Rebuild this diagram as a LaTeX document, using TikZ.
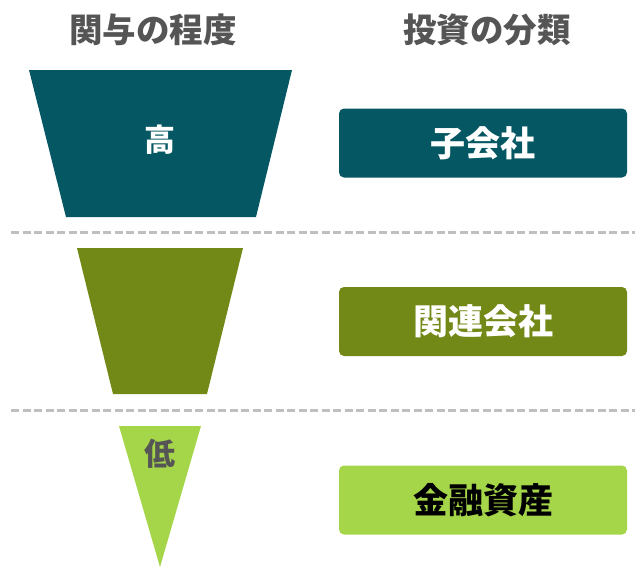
\documentclass[tikz,border=0pt]{standalone}
\usepackage{fontspec}
\newfontfamily\jp{Noto Sans CJK JP}
\definecolor{cteal}{HTML}{055863}
\definecolor{colive}{HTML}{738917}
\definecolor{clight}{HTML}{A5D548}
\definecolor{cgrayt}{HTML}{555555}
\definecolor{cdash}{HTML}{BFBFBF}
\tikzset{
  heading/.style={font=\jp\bfseries\fontsize{33.5}{38}\selectfont, text=cgrayt},
  catbox/.style={rounded corners=5pt, minimum width=288pt, minimum height=69pt, inner sep=0pt, font=\jp\bfseries\fontsize{35}{40}\selectfont},
  sepline/.style={draw=cdash, line width=3pt, dash pattern=on 8pt off 3.5pt},
  level/.style={font=\jp\bfseries\fontsize{31}{36}\selectfont}
}
\begin{document}
\begin{tikzpicture}[x=1pt,y=-1pt]
\useasboundingbox (0,0) rectangle (635,568);
% headings
\node[heading] (h1) at (153,30) {関与の程度};
\node[heading] (h2) at (487,30) {投資の分類};
% funnel pieces
\fill[cteal] (29,70) -- (292,70) -- (256,217) -- (66,217) -- cycle;
\fill[colive] (77,248) -- (243,248) -- (207,394) -- (113,394) -- cycle;
\fill[clight] (119,426) -- (201,426) -- (160,567) -- cycle;
\node[level, text=white] (hi) at (160,140) {高};
\node[level, text=cgrayt] (lo) at (160,454) {低};
% separators
\coordinate (s1a) at (11,232); \coordinate (s1b) at (635,232);
\coordinate (s2a) at (11,410); \coordinate (s2b) at (635,410);
\draw[sepline] (s1a) -- (s1b);
\draw[sepline] (s2a) -- (s2b);
% category boxes
\node[catbox, fill=cteal, text=white] (b1) at (483,143) {子会社};
\node[catbox, fill=colive, text=white] (b2) at (483,321.5) {関連会社};
\node[catbox, fill=clight, text=black] (b3) at (483,500) {金融資産};
\end{tikzpicture}
\end{document}
